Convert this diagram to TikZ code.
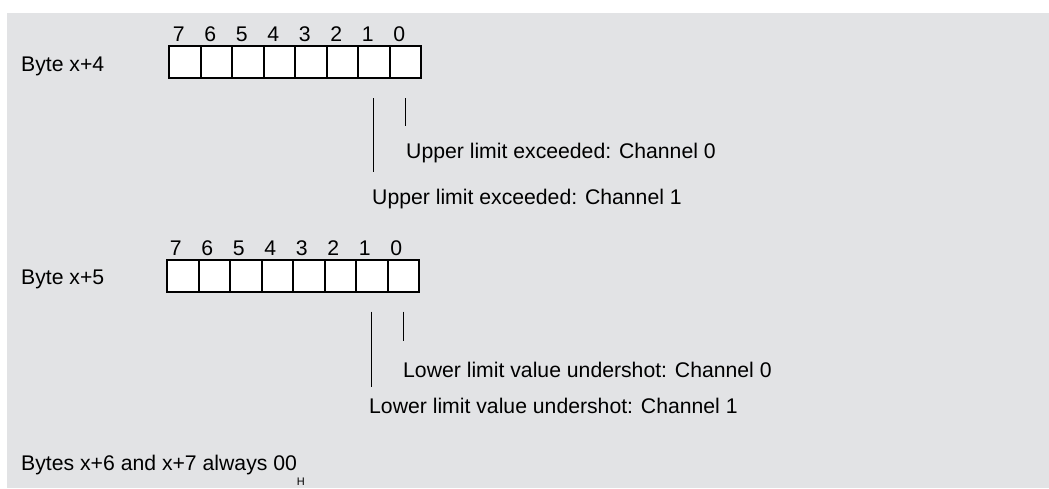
\documentclass[tikz,border=0pt]{standalone}
\usepackage{fontspec}
\setmainfont{Liberation Sans}
\definecolor{bggray}{HTML}{E2E3E5}
\begin{document}
\begin{tikzpicture}[x=1pt,y=-1pt,
  cell/.style={draw=black,line width=2pt,fill=white,minimum width=31.5pt,minimum height=32pt,inner sep=0pt,outer sep=0pt},
  lbl/.style={inner sep=0pt,anchor=base west,font=\fontsize{21.2}{24}\selectfont},
  digit/.style={inner sep=0pt,anchor=base,font=\fontsize{21.2}{24}\selectfont},
  lead/.style={line width=1.3pt}]
\useasboundingbox (0,0) rectangle (1049,488);
\fill[bggray] (7,13) rectangle (1049,488);
% Byte x+4
\node[lbl] (bytea) at (21,71) {Byte x+4};
\foreach \b in {0,...,7}{
  \node[cell] (a\b) at ({169+(7.5-\b)*31.5},62) {};
  \node[digit] (da\b) at ({169+(7.5-\b)*31.5-6},41) {\b};
}
\coordinate (a1t) at ([yshift=-20pt]a1.south);
\coordinate (a1e) at ([yshift=-94pt]a1.south);
\coordinate (a0t) at ([yshift=-20pt]a0.south);
\coordinate (a0e) at ([yshift=-48pt]a0.south);
\draw[lead] (a1t) -- (a1e);
\draw[lead] (a0t) -- (a0e);
\node[lbl] (ua0) at (406,158) {Upper limit exceeded: Channel 0};
\node[lbl] (ua1) at (372,204) {Upper limit exceeded: Channel 1};
% Byte x+5
\node[lbl] (byteb) at (21,284) {Byte x+5};
\foreach \b in {0,...,7}{
  \node[cell] (b\b) at ({167+(7.5-\b)*31.5},275.5) {};
  \node[digit] (db\b) at ({167+(7.5-\b)*31.5-7},255) {\b};
}
\coordinate (b1t) at ([yshift=-20pt]b1.south);
\coordinate (b1e) at ([yshift=-95pt]b1.south);
\coordinate (b0t) at ([yshift=-20pt]b0.south);
\coordinate (b0e) at ([yshift=-49pt]b0.south);
\draw[lead] (b1t) -- (b1e);
\draw[lead] (b0t) -- (b0e);
\node[lbl] (lb0) at (403,377) {Lower limit value undershot: Channel 0};
\node[lbl] (lb1) at (369,413) {Lower limit value undershot: Channel 1};
% bottom note
\node[lbl] (note) at (21,470) {Bytes x+6 and x+7 always 00\raisebox{-15pt}{\fontsize{11}{11}\selectfont H}};
\end{tikzpicture}
\end{document}
